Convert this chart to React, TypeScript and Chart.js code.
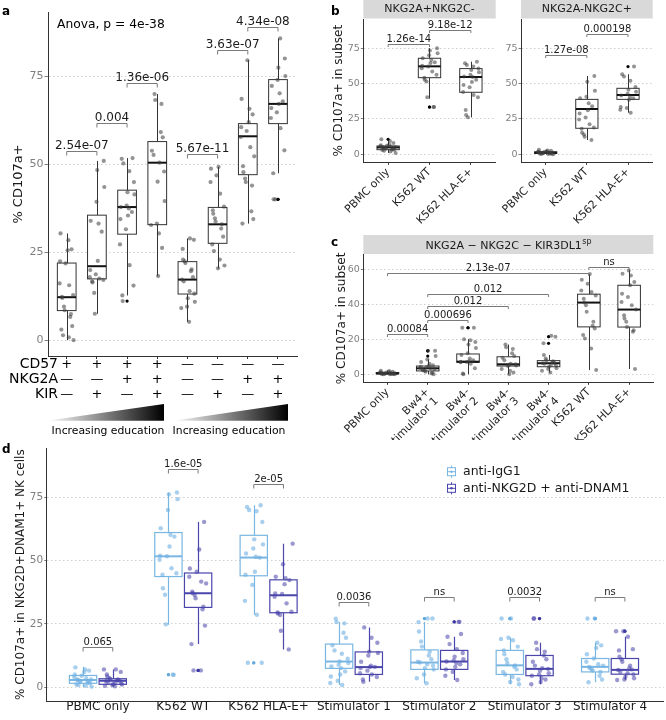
import React, { useEffect, useRef } from "react";
import { Chart, registerables } from "chart.js";

Chart.register(...registerables);

const FONT = "'DejaVu Sans', 'Noto Sans', sans-serif";
Chart.defaults.font.family = FONT;

// fixed jitter pattern (layout only, normalised -1..1)
const JIT = [-0.82, 0.47, -0.15, 0.91, -0.58, 0.22, 0.73, -0.94, 0.05, -0.36, 0.64, -0.71, 0.33, 0.98, -0.27, 0.12, -0.49, 0.85, -0.05, 0.56, -0.88, 0.29, -0.63];

// ---------------- Panel a ----------------
const A_CD57 = ["+", "+", "+", "+", "—", "—", "—", "—"];
const A_NKG2A = ["—", "—", "+", "+", "—", "—", "+", "+"];
const A_KIR = ["—", "+", "—", "+", "—", "+", "—", "+"];
const A_ROWS = ["CD57", "NKG2A", "KIR"];
const A_Y_TICKS = [0, 25, 50, 75];
// [lower whisker, q1, median, q3, upper whisker]
const A_BOX = [
  [0.1, 8.5, 12.3, 22.0, 30.4],
  [7.6, 17.5, 21.1, 35.6, 51.0],
  [12.8, 30.2, 37.9, 42.7, 51.8],
  [18.3, 32.9, 50.5, 56.5, 70.0],
  [5.3, 13.2, 17.3, 22.4, 29.0],
  [20.5, 27.6, 33.0, 37.8, 49.3],
  [33.2, 47.1, 58.0, 61.6, 79.6],
  [47.5, 61.6, 67.2, 74.1, 85.8],
];
const A_OUT = [[], [], [11.2], [], [], [], [], [40.1, 40.1]];
const A_PTS = [
  [30.4, 28.5, 25.9, 25.6, 22.5, 21.9, 16.2, 15.7, 12.9, 12.4, 12.1, 9.6, 8.6, 7.5, 6.7, 4.1, 3.1, 1.5, 0.9, 0.1],
  [51.0, 48.4, 43.6, 39.4, 34.0, 33.2, 30.9, 22.6, 20.0, 18.8, 18.0, 17.6, 17.2, 16.8, 16.5, 13.5, 7.6],
  [51.8, 51.6, 50.3, 48.1, 45.0, 42.1, 41.5, 38.3, 37.9, 37.5, 36.5, 35.5, 34.5, 31.6, 27.3, 21.4, 15.6, 12.8, 11.2],
  [70.0, 68.3, 67.2, 59.2, 57.7, 53.9, 52.7, 50.5, 48.0, 45.1, 39.6, 33.2, 32.8, 30.4, 26.3, 18.3],
  [29.0, 28.6, 26.0, 23.0, 22.5, 22.0, 20.2, 19.7, 18.0, 17.3, 16.8, 14.0, 13.3, 12.0, 11.0, 9.6, 9.2, 5.3],
  [49.3, 48.8, 46.9, 45.0, 41.7, 38.0, 37.0, 36.0, 34.7, 33.8, 33.0, 31.8, 29.5, 27.3, 25.4, 23.0, 21.3, 20.5],
  [79.6, 68.6, 65.8, 64.2, 62.0, 60.6, 59.5, 57.8, 54.9, 52.3, 49.5, 47.8, 46.0, 45.0, 44.0, 36.7, 34.5, 33.2],
  [85.8, 80.1, 77.5, 75.1, 74.0, 72.3, 70.2, 67.9, 67.2, 66.0, 64.8, 63.2, 60.3, 54.0, 47.5, 40.1, 40.1],
];
const A_BRACKETS: [number, number, number, string][] = [
  [1, 2, 53.9, "2.54e-07"],
  [2, 3, 61.9, "0.004"],
  [3, 4, 73.0, "1.36e-06"],
  [5, 6, 52.9, "5.67e-11"],
  [6, 7, 82.5, "3.63e-07"],
  [7, 8, 89.1, "4.34e-08"],
];
const A_ANOVA = "Anova, p = 4e-38";
const A_EDU = "Increasing education";
const A_Y_TITLE = "% CD107a+";

// ---------------- Panel b ----------------
const B_CATS = ["PBMC only", "K562 WT", "K562 HLA-E+"];
const B_FACETS = ["NKG2A+NKG2C-", "NKG2A-NKG2C+"];
const B_Y_TICKS = [0, 25, 50, 75];
const B_Y_TITLE = "% CD107a+ in subset";
const B1_BOX = [
  [1.0, 3.3, 4.9, 5.9, 10.0],
  [39.3, 54.1, 62.1, 67.8, 74.9],
  [26.1, 43.8, 54.6, 60.5, 65.4],
];
const B1_OUT = [[10.6], [33.4, 33.4], []];
const B1_PTS = [
  [10.6, 9.5, 8.0, 7.0, 6.5, 6.0, 5.8, 5.5, 5.2, 5.0, 4.8, 4.5, 4.2, 4.0, 3.5, 3.2, 3.0, 2.5, 2.0, 1.0],
  [74.9, 73.3, 71.4, 70.0, 67.8, 66.7, 65.0, 64.4, 62.5, 62.0, 60.8, 58.5, 56.1, 54.0, 52.6, 51.4, 40.3, 33.4, 33.4],
  [65.4, 64.2, 63.0, 61.9, 60.5, 59.5, 58.0, 56.1, 55.0, 54.6, 52.6, 51.0, 49.0, 47.3, 44.0, 41.9, 40.3, 31.3, 27.8, 26.1],
];
const B1_BRACKETS: [number, number, number, string][] = [
  [1, 2, 78.1, "1.26e-14"],
  [2, 3, 87.8, "9.18e-12"],
];
const B2_BOX = [
  [0.1, 0.6, 1.2, 1.8, 3.2],
  [10.1, 18.4, 32.0, 38.8, 55.3],
  [29.4, 38.8, 41.9, 46.6, 56.5],
];
const B2_OUT = [[], [], [61.9]];
const B2_PTS = [
  [3.2, 2.8, 2.5, 2.2, 2.0, 1.8, 1.6, 1.4, 1.3, 1.2, 1.1, 1.0, 0.9, 0.8, 0.6, 0.5, 0.4, 0.3, 0.2, 0.1],
  [55.3, 51.3, 44.9, 40.7, 39.5, 36.0, 34.0, 31.2, 28.9, 26.0, 24.6, 21.3, 19.0, 18.1, 15.3, 14.1, 12.4, 10.1],
  [61.9, 56.5, 54.9, 51.9, 47.5, 45.5, 44.1, 42.7, 41.6, 40.4, 39.5, 38.6, 33.4, 32.7, 31.5, 29.4],
];
const B2_BRACKETS: [number, number, number, string][] = [
  [1, 2, 70.1, "1.27e-08"],
  [2, 3, 84.7, "0.000198"],
];

// ---------------- Panel c ----------------
const C_CATS = [
  "PBMC only",
  ["Bw4+", "stimulator 1"],
  ["Bw4-", "stimulator 2"],
  ["Bw4-", "stimulator 3"],
  ["Bw4-", "stimulator 4"],
  "K562 WT",
  "K562 HLA-E+",
];
const C_FACET = "NKG2A − NKG2C − KIR3DL1";
const C_FACET_SUP = "sp";
const C_Y_TICKS = [0, 20, 40, 60];
const C_BOX = [
  [0, 0.2, 0.5, 1.0, 2.1],
  [0, 1.9, 3.4, 4.7, 8.5],
  [0, 6.8, 7.2, 11.6, 20.0],
  [0, 4.7, 5.7, 10.0, 17.0],
  [1.0, 4.3, 6.3, 7.8, 11.0],
  [2.4, 27.1, 41.0, 45.8, 57.3],
  [3.0, 27.0, 37.0, 50.9, 59.4],
];
const C_OUT = [[], [13.4, 13.4, 10.4], [26.6, 26.6], [], [21.5, 17.7], [], []];
const C_PTS = [
  [2.0, 1.8, 1.5, 1.3, 1.2, 1.0, 0.9, 0.8, 0.7, 0.6, 0.5, 0.5, 0.4, 0.3, 0.3, 0.2, 0.1, 0.0, 0.0, 0.0],
  [13.4, 13.4, 10.4, 8.5, 7.0, 6.0, 5.2, 4.7, 4.3, 4.0, 3.6, 3.4, 3.0, 2.7, 2.3, 2.0, 1.5, 1.0, 0.5, 0.0],
  [26.6, 26.6, 20.0, 19.5, 18.5, 17.0, 15.0, 12.0, 11.0, 9.0, 8.0, 7.5, 7.2, 7.0, 6.8, 6.0, 3.5, 0.5, 0.0],
  [17.0, 15.5, 14.5, 12.0, 10.5, 9.5, 8.0, 6.0, 5.7, 5.5, 5.0, 4.7, 3.0, 2.0, 1.0, 0.0],
  [22.0, 21.5, 17.7, 11.0, 9.0, 8.0, 7.5, 7.0, 6.5, 6.3, 6.0, 5.5, 5.0, 4.3, 3.5, 3.0, 2.0, 1.0],
  [57.3, 54.0, 51.8, 47.9, 47.0, 45.1, 43.2, 41.0, 39.5, 35.7, 30.0, 27.7, 26.2, 22.4, 20.5, 14.8, 2.4],
  [59.4, 57.5, 56.5, 52.7, 50.9, 46.1, 44.2, 41.4, 39.5, 37.0, 33.8, 31.9, 30.0, 27.1, 25.2, 24.3, 3.0],
];
const C_BRACKETS: [number, number, number, string][] = [
  [1, 6, 58.1, "2.13e-07"],
  [6, 7, 61.3, "ns"],
  [2, 5, 46.1, "0.012"],
  [2, 4, 39.1, "0.012"],
  [2, 3, 30.8, "0.000696"],
  [1, 2, 22.8, "0.00084"],
];

// ---------------- Panel d ----------------
const D_CATS = ["PBMC only", "K562 WT", "K562 HLA-E+", "Stimulator 1", "Stimulator 2", "Stimulator 3", "Stimulator 4"];
const D_SERIES = ["anti-IgG1", "anti-NKG2D + anti-DNAM1"];
const D_Y_TICKS = [0, 25, 50, 75];
const D_Y_TITLE = "% CD107a+ in NKG2D+DNAM1+ NK cells";
const D_IGG_BOX = [
  [0.0, 1.5, 2.8, 4.6, 8.0],
  [24.6, 43.7, 51.7, 61.1, 76.9],
  [28.6, 44.0, 51.2, 60.0, 71.9],
  [0.8, 7.4, 10.1, 17.0, 25.7],
  [1.5, 7.0, 9.7, 14.7, 25.7],
  [1.1, 5.0, 8.6, 14.5, 19.5],
  [1.9, 6.0, 8.0, 11.3, 17.5],
];
const D_IGG_OUT = [[], [4.9, 4.9], [9.6, 9.6], [], [27.1, 27.1], [27.1, 27.1], [27.1, 27.1]];
const D_IGG_PTS = [
  [7.8, 7.0, 6.5, 6.0, 5.0, 4.5, 4.0, 3.5, 3.0, 3.0, 2.8, 2.5, 2.2, 2.0, 1.8, 1.5, 1.0, 0.8, 0.5, 0.2],
  [76.9, 76.2, 74.3, 70.0, 62.8, 60.2, 59.5, 55.6, 51.9, 51.7, 50.3, 47.0, 45.0, 44.4, 39.1, 36.5, 24.8, 4.9, 4.9],
  [71.9, 71.2, 70.0, 69.5, 65.3, 58.4, 56.4, 54.8, 52.8, 51.5, 51.2, 45.6, 44.4, 40.4, 34.1, 28.6, 9.6, 9.6],
  [27.0, 25.7, 25.2, 21.5, 19.5, 16.5, 14.5, 13.2, 11.2, 10.1, 9.5, 8.8, 8.2, 7.5, 6.2, 5.0, 4.2, 2.5, 1.6, 0.8],
  [27.1, 27.1, 25.7, 22.0, 18.0, 16.0, 14.0, 12.5, 11.0, 10.0, 9.7, 9.0, 8.5, 7.5, 7.0, 5.0, 3.5, 1.5],
  [27.1, 27.1, 19.5, 19.0, 18.5, 16.0, 14.5, 13.0, 11.0, 9.5, 8.6, 8.0, 7.0, 6.0, 5.0, 4.0, 3.0, 2.0, 1.1],
  [27.1, 27.1, 17.5, 16.5, 15.5, 13.0, 11.3, 10.0, 9.0, 8.5, 8.0, 7.5, 7.0, 6.5, 6.0, 4.5, 3.0, 1.9],
];
const D_ANTI_BOX = [
  [0.3, 1.1, 2.5, 3.3, 7.0],
  [17.0, 31.5, 37.1, 45.1, 65.3],
  [14.9, 29.4, 36.3, 42.4, 56.7],
  [2.1, 5.0, 7.9, 13.9, 23.6],
  [2.8, 7.0, 10.1, 14.5, 19.9],
  [1.1, 4.5, 7.2, 12.5, 17.5],
  [2.8, 5.1, 6.8, 11.3, 19.9],
];
const D_ANTI_OUT = [[], [6.6, 6.6], [], [], [25.8, 25.8], [27.1, 27.1], [22.1, 22.1]];
const D_ANTI_PTS = [
  [7.0, 7.0, 6.0, 5.0, 4.2, 3.5, 3.2, 3.0, 2.8, 2.5, 2.3, 2.0, 1.8, 1.5, 1.2, 1.0, 0.8, 0.5, 0.3],
  [65.3, 54.4, 46.9, 45.6, 43.6, 41.7, 41.0, 37.7, 37.1, 36.4, 35.1, 31.8, 30.8, 24.3, 17.0, 6.6, 6.6],
  [56.7, 48.6, 43.6, 43.0, 42.3, 40.7, 37.0, 36.8, 35.7, 33.1, 29.8, 29.5, 29.1, 28.5, 22.3, 14.9],
  [23.6, 19.5, 17.5, 14.0, 13.5, 12.5, 10.0, 8.5, 8.0, 7.9, 7.5, 6.5, 5.5, 5.0, 4.0, 3.0, 2.1],
  [25.8, 25.8, 21.0, 19.9, 17.0, 15.0, 13.5, 12.0, 11.0, 10.5, 10.1, 9.5, 9.0, 8.0, 7.0, 6.0, 4.5, 2.8],
  [27.1, 27.1, 17.5, 15.0, 14.0, 12.5, 11.0, 10.0, 8.5, 7.5, 7.2, 6.5, 5.5, 5.0, 4.5, 3.5, 3.0, 2.0, 1.1],
  [22.1, 22.1, 19.9, 15.0, 14.5, 12.0, 11.0, 10.0, 8.5, 7.5, 7.0, 6.8, 6.0, 5.5, 5.0, 4.0, 3.5, 3.0, 2.8],
];
const D_BRACKETS: [number, number, string][] = [
  [1, 15.9, "0.065"],
  [2, 86.4, "1.6e-05"],
  [3, 80.1, "2e-05"],
  [4, 33.7, "0.0036"],
  [5, 35.7, "ns"],
  [6, 35.7, "0.0032"],
  [7, 35.7, "ns"],
];

// ---------------- colours ----------------
const GREY_PT = "rgba(60,60,60,0.55)";
const IGG_LINE = "#7ab6e2";
const IGG_PT = "rgba(110,175,225,0.6)";
const IGG_OUT = "#62a9de";
const ANTI_LINE = "#4a46ab";
const ANTI_PT = "rgba(72,68,170,0.55)";
const ANTI_OUT = "#3b379f";

// ---------------- generic drawing ----------------
function drawBoxes(chart: any, spec: any) {
  const { ctx } = chart;
  const X = chart.scales.x;
  const Y = chart.scales.y;
  ctx.save();
  spec.series.forEach((s: any) => {
    s.box.forEach((b: number[], i: number) => {
      const c = i + 1 + s.offset;
      const xc = Math.round(X.getPixelForValue(c)) + 0.5;
      const xl = X.getPixelForValue(c - spec.boxW / 2);
      const xr = X.getPixelForValue(c + spec.boxW / 2);
      const [lo, q1, md, q3, hi] = b.map((v) => Y.getPixelForValue(v));
      ctx.strokeStyle = s.line;
      ctx.lineWidth = spec.boxLW;
      ctx.beginPath();
      ctx.moveTo(xc, hi);
      ctx.lineTo(xc, q3);
      ctx.moveTo(xc, q1);
      ctx.lineTo(xc, lo);
      ctx.stroke();
      ctx.fillStyle = "#ffffff";
      ctx.fillRect(xl, q3, xr - xl, q1 - q3);
      ctx.strokeRect(xl, q3, xr - xl, q1 - q3);
      ctx.strokeStyle = s.median;
      ctx.lineWidth = 2;
      ctx.beginPath();
      ctx.moveTo(xl, md);
      ctx.lineTo(xr, md);
      ctx.stroke();
      ctx.fillStyle = s.outColor;
      (s.out[i] || []).forEach((v: number) => {
        ctx.beginPath();
        ctx.arc(X.getPixelForValue(c), Y.getPixelForValue(v), spec.outR, 0, Math.PI * 2);
        ctx.fill();
      });
    });
  });
  ctx.restore();
}

function drawBrackets(chart: any, spec: any) {
  const { ctx } = chart;
  const X = chart.scales.x;
  const Y = chart.scales.y;
  ctx.save();
  ctx.font = `${spec.brFont}px ${FONT}`;
  ctx.textAlign = "center";
  ctx.textBaseline = "alphabetic";
  spec.brackets.forEach((br: any) => {
    const x1 = X.getPixelForValue(br.x1);
    const x2 = X.getPixelForValue(br.x2);
    const y = Math.round(Y.getPixelForValue(br.y)) + 0.5;
    ctx.strokeStyle = "#7a7a7a";
    ctx.lineWidth = 1;
    ctx.beginPath();
    ctx.moveTo(x1, y + spec.tip);
    ctx.lineTo(x1, y);
    ctx.lineTo(x2, y);
    ctx.lineTo(x2, y + spec.tip);
    ctx.stroke();
    ctx.fillStyle = "#1a1a1a";
    ctx.fillText(br.label, (x1 + x2) / 2, y - spec.brGap);
  });
  ctx.restore();
}

function buildConfig(spec: any): any {
  const datasets = spec.series.map((s: any, si: number) => ({
    type: "scatter",
    data: s.pts.flatMap((arr: number[], gi: number) =>
      arr.map((v: number, k: number) => ({
        x: gi + 1 + s.offset + JIT[(k * 5 + gi * 3 + si * 7) % JIT.length] * spec.jitter,
        y: v,
      }))
    ),
    pointRadius: spec.ptR,
    pointHoverRadius: spec.ptR,
    backgroundColor: s.ptColor,
    borderWidth: 0,
  }));
  const plugin = {
    id: "boxes",
    beforeDatasetsDraw(chart: any) {
      drawBoxes(chart, spec);
    },
    afterDatasetsDraw(chart: any) {
      drawBrackets(chart, spec);
      if (spec.extra) spec.extra(chart);
    },
  };
  return {
    type: "scatter",
    data: { datasets },
    plugins: [plugin],
    options: {
      responsive: false,
      animation: false,
      devicePixelRatio: 1,
      events: [],
      layout: { padding: { left: spec.padL || 0, top: spec.padT, right: spec.padR, bottom: 0 } },
      plugins: { legend: { display: false }, tooltip: { enabled: false } },
      scales: {
        x: {
          type: "linear",
          min: spec.xmin,
          max: spec.xmax,
          afterBuildTicks: (sc: any) => {
            sc.ticks = spec.labels.map((_: any, i: number) => ({ value: i + 1 }));
          },
          afterFit: (sc: any) => {
            sc.height = spec.xH;
          },
          ticks: {
            autoSkip: false,
            minRotation: spec.xRot,
            maxRotation: spec.xRot,
            padding: spec.xPad,
            color: spec.xColor,
            font: { size: spec.xFont, lineHeight: spec.xLH },
            callback: (_v: any, i: number) => spec.labels[i],
          },
          grid: { drawOnChartArea: false, drawTicks: true, tickLength: spec.xTick, tickColor: "#333333", tickWidth: 1 },
          border: { display: true, color: "#333333", width: 1 },
        },
        y: {
          type: "linear",
          min: spec.ymin,
          max: spec.ymax,
          afterBuildTicks: (sc: any) => {
            sc.ticks = spec.yticks.map((v: number) => ({ value: v }));
          },
          afterFit: (sc: any) => {
            sc.width = spec.yW;
          },
          ticks: { padding: spec.yPad, color: "#7f7f7f", font: { size: spec.yFont } },
          grid: { color: "#d0d0d0", lineWidth: 1, drawTicks: true, tickLength: spec.yTick, tickColor: "#7f7f7f", tickWidth: 1 },
          border: { display: true, color: "#333333", width: 1, dash: [1.5, 2.5] },
          title: spec.yTitle
            ? {
                display: true,
                text: spec.yTitle,
                color: "#1a1a1a",
                font: { size: spec.yTitleSize },
                padding: { top: spec.yTitlePad, bottom: 0 },
              }
            : { display: false },
        },
      },
    },
  };
}

function toBr(list: [number, number, number, string][]) {
  return list.map(([a, b, y, l]) => ({ x1: a, x2: b, y, label: l }));
}

function stripDrawer(text: string, sup?: string) {
  return (chart: any) => {
    const { ctx, chartArea } = chart;
    ctx.save();
    ctx.fillStyle = "#d9d9d9";
    ctx.fillRect(chartArea.left, chartArea.top - 19.5, chartArea.right - chartArea.left, 19);
    ctx.fillStyle = "#1a1a1a";
    ctx.textBaseline = "middle";
    const cx = (chartArea.left + chartArea.right) / 2;
    const cy = chartArea.top - 9.5;
    ctx.font = `11px ${FONT}`;
    if (!sup) {
      ctx.textAlign = "center";
      ctx.fillText(text, cx, cy);
    } else {
      const w1 = ctx.measureText(text).width;
      ctx.font = `8px ${FONT}`;
      const w2 = ctx.measureText(sup).width;
      const start = cx - (w1 + w2) / 2;
      ctx.textAlign = "left";
      ctx.font = `11px ${FONT}`;
      ctx.fillText(text, start, cy + 1);
      ctx.font = `8px ${FONT}`;
      ctx.fillText(sup, start + w1 + 0.5, cy - 3);
    }
    ctx.restore();
  };
}

function extraA(chart: any) {
  const { ctx, chartArea } = chart;
  ctx.save();
  ctx.fillStyle = "#000";
  ctx.font = `14px ${FONT}`;
  ctx.textAlign = "right";
  ctx.textBaseline = "middle";
  const y0 = chartArea.bottom + 3 - 2 + 7.5;
  A_ROWS.forEach((r, k) => ctx.fillText(r, 58, y0 + k * 15));
  const tri = (x0: number, x1: number) => {
    const g = ctx.createLinearGradient(x0, 0, x1, 0);
    g.addColorStop(0, "#ffffff");
    g.addColorStop(1, "#000000");
    ctx.fillStyle = g;
    ctx.beginPath();
    ctx.moveTo(x0, 420.7);
    ctx.lineTo(x1, 420.7);
    ctx.lineTo(x1, 404);
    ctx.closePath();
    ctx.fill();
  };
  tri(46.7, 164);
  tri(173, 288);
  ctx.fillStyle = "#000";
  ctx.font = `10.8px ${FONT}`;
  ctx.textAlign = "center";
  ctx.fillText(A_EDU, 108, 431);
  ctx.fillText(A_EDU, 229, 431);
  ctx.textAlign = "left";
  ctx.textBaseline = "alphabetic";
  ctx.font = `12.3px ${FONT}`;
  ctx.fillText(A_ANOVA, 57, 28);
  ctx.restore();
}

function extraD(chart: any) {
  const { ctx } = chart;
  ctx.save();
  const rows = [
    { y: 31.7, line: IGG_LINE, label: D_SERIES[0] },
    { y: 48.3, line: ANTI_LINE, label: D_SERIES[1] },
  ];
  rows.forEach((r) => {
    ctx.strokeStyle = r.line;
    ctx.lineWidth = 1;
    ctx.beginPath();
    ctx.moveTo(451.5, r.y - 6);
    ctx.lineTo(451.5, r.y + 6);
    ctx.stroke();
    ctx.fillStyle = "#fff";
    ctx.fillRect(447.5, r.y - 4, 8, 8);
    ctx.strokeRect(447.5, r.y - 4, 8, 8);
    ctx.beginPath();
    ctx.moveTo(447.5, r.y);
    ctx.lineTo(455.5, r.y);
    ctx.stroke();
    ctx.fillStyle = r.line;
    ctx.beginPath();
    ctx.arc(451.5, r.y, 1.2, 0, Math.PI * 2);
    ctx.fill();
    ctx.fillStyle = "#1a1a1a";
    ctx.font = `12.5px ${FONT}`;
    ctx.textAlign = "left";
    ctx.textBaseline = "middle";
    ctx.fillText(r.label, 463, r.y);
  });
  ctx.restore();
}

const greySeries = (box: number[][], out: number[][], pts: number[][]) => [
  { offset: 0, box, out, pts, line: "#333333", median: "#111111", ptColor: GREY_PT, outColor: "#000000" },
];

const SPEC_A = {
  labels: A_CD57.map((c, i) => [c, A_NKG2A[i], A_KIR[i]]),
  xmin: 0.38, xmax: 8.63, ymin: -4.4, ymax: 93.3, yticks: A_Y_TICKS,
  padT: 12, padR: 33, yW: 48, xH: 84,
  boxW: 0.62, boxLW: 1, jitter: 0.25, ptR: 2.1, outR: 1.6,
  series: greySeries(A_BOX, A_OUT, A_PTS),
  brackets: toBr(A_BRACKETS), brFont: 12, tip: 4, brGap: 3,
  xFont: 13, xLH: "15px", xColor: "#000000", xRot: 0, xPad: -2, xTick: 3,
  yFont: 11, yPad: 1, yTick: 3.5,
  yTitle: A_Y_TITLE, yTitleSize: 13, yTitlePad: 11,
  extra: extraA,
};

const commonB = {
  labels: B_CATS,
  xmin: 0.4, xmax: 3.6, ymin: -5.6, ymax: 95.5, yticks: B_Y_TICKS,
  padT: 19, xH: 69.7,
  boxW: 0.54, boxLW: 1, jitter: 0.2, ptR: 2, outR: 1.6,
  brFont: 10, tip: 2.5, brGap: 2.5,
  xFont: 11, xLH: 1.15, xColor: "#262626", xRot: 45, xPad: 1, xTick: 2.5,
  yFont: 9.5, yPad: 1, yTick: 2.5,
};

const SPEC_B1 = {
  ...commonB,
  padR: 2.3, yW: 33.3,
  series: greySeries(B1_BOX, B1_OUT, B1_PTS),
  brackets: toBr(B1_BRACKETS),
  yTitle: B_Y_TITLE, yTitleSize: 12, yTitlePad: 2,
  extra: stripDrawer(B_FACETS[0]),
};

const SPEC_B2 = {
  ...commonB,
  padR: 13.3, yW: 31,
  series: greySeries(B2_BOX, B2_OUT, B2_PTS),
  brackets: toBr(B2_BRACKETS),
  extra: stripDrawer(B_FACETS[1]),
};

const SPEC_C = {
  labels: C_CATS,
  xmin: 0.4, xmax: 7.6, ymin: -4.6, ymax: 68.5, yticks: C_Y_TICKS,
  padT: 22.5, padR: 12.7, yW: 33.3, xH: 57.7,
  boxW: 0.56, boxLW: 1, jitter: 0.2, ptR: 2, outR: 1.6,
  series: greySeries(C_BOX, C_OUT, C_PTS),
  brackets: toBr(C_BRACKETS), brFont: 10, tip: 2.5, brGap: 2.5,
  xFont: 11, xLH: 1.15, xColor: "#262626", xRot: 45, xPad: 1, xTick: 2.5,
  yFont: 9.5, yPad: 1, yTick: 2.5,
  yTitle: B_Y_TITLE, yTitleSize: 12, yTitlePad: 5,
  extra: stripDrawer(C_FACET, C_FACET_SUP),
};

const SPEC_D = {
  labels: D_CATS,
  xmin: 0.4, xmax: 7.63, ymin: -5.5, ymax: 94.4, yticks: D_Y_TICKS,
  padT: 8.3, padR: 2, yW: 46.7, xH: 19,
  boxW: 0.32, boxLW: 1.2, jitter: 0.11, ptR: 2.2, outR: 1.6,
  series: [
    { offset: -0.174, box: D_IGG_BOX, out: D_IGG_OUT, pts: D_IGG_PTS, line: IGG_LINE, median: IGG_LINE, ptColor: IGG_PT, outColor: IGG_OUT },
    { offset: 0.174, box: D_ANTI_BOX, out: D_ANTI_OUT, pts: D_ANTI_PTS, line: ANTI_LINE, median: ANTI_LINE, ptColor: ANTI_PT, outColor: ANTI_OUT },
  ],
  brackets: D_BRACKETS.map(([c, y, l]) => ({ x1: c - 0.174, x2: c + 0.174, y, label: l })),
  brFont: 10, tip: 4, brGap: 3,
  xFont: 12, xLH: 1.2, xColor: "#1a1a1a", xRot: 0, xPad: -3, xTick: 2,
  yFont: 10.5, yPad: 1, yTick: 2.5,
  yTitle: D_Y_TITLE, yTitleSize: 12, yTitlePad: 13.6,
  extra: extraD,
};

function Panel(props: { left: number; top: number; width: number; height: number; spec: any }) {
  const ref = useRef<HTMLCanvasElement>(null);
  useEffect(() => {
    const chart = new Chart(ref.current as HTMLCanvasElement, buildConfig(props.spec));
    return () => chart.destroy();
  }, []);
  return (
    <canvas
      ref={ref}
      width={props.width}
      height={props.height}
      style={{ position: "absolute", left: props.left, top: props.top, width: props.width, height: props.height }}
    />
  );
}

const letterStyle = (left: number, top: number): React.CSSProperties => ({
  position: "absolute",
  left,
  top,
  fontFamily: FONT,
  fontWeight: "bold",
  fontSize: 12,
  lineHeight: "12px",
  color: "#000",
});

export default function App() {
  return (
    <div style={{ position: "absolute", left: 0, top: 0, width: 666, height: 720, background: "#fff", overflow: "hidden" }}>
      <Panel left={0} top={0} width={330} height={440} spec={SPEC_A} />
      <Panel left={330} top={0} width={168} height={232} spec={SPEC_B1} />
      <Panel left={490} top={0} width={176} height={232} spec={SPEC_B2} />
      <Panel left={330} top={232} width={336} height={208} spec={SPEC_C} />
      <Panel left={0} top={440} width={666} height={280} spec={SPEC_D} />
      <div style={letterStyle(2, 5)}>a</div>
      <div style={letterStyle(331, 5)}>b</div>
      <div style={letterStyle(331, 236)}>c</div>
      <div style={letterStyle(2, 443)}>d</div>
    </div>
  );
}
